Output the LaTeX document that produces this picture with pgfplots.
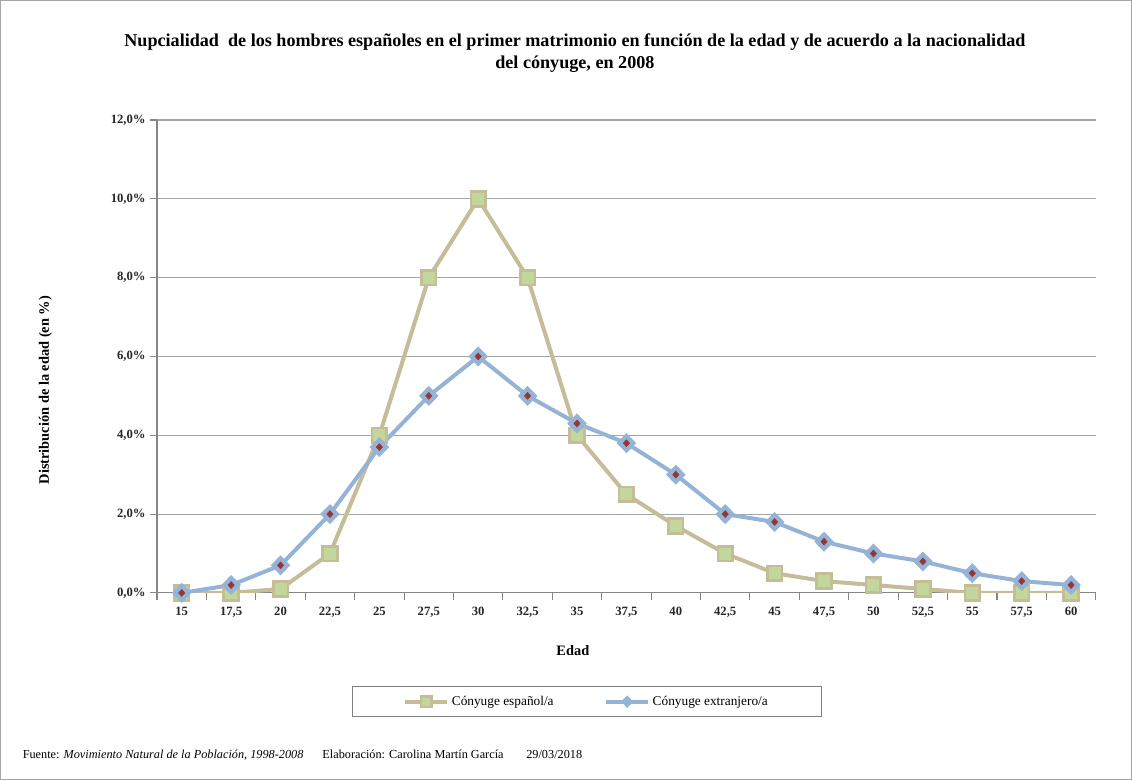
\documentclass[border=0pt]{standalone}
\usepackage{pgfplots}
\pgfplotsset{compat=1.18}
\usepackage{fontspec}
\setmainfont{Liberation Serif}
\definecolor{tanline}{HTML}{C4BD97}
\definecolor{sqfill}{HTML}{C3D69B}
\definecolor{blueline}{HTML}{95B3D7}
\definecolor{redc}{HTML}{953735}
\definecolor{gridc}{HTML}{A6A6A6}
\definecolor{axc}{HTML}{868686}
\begin{document}
\begin{tikzpicture}
\begin{axis}[name=ax, scale only axis, width=704.25pt, height=354.75pt,
  xmin=-0.5, xmax=18.5, ymin=0, ymax=12,
  axis x line*=bottom, axis y line*=left,
  axis line style={axc, line width=0.8pt, -},
  xtick={0,...,18},
  xticklabels={15,{17,5},20,{22,5},25,{27,5},30,{32,5},35,{37,5},40,{42,5},45,{47,5},50,{52,5},55,{57,5},60},
  minor xtick={-0.5,0.5,...,18.5},
  major x tick style={draw=none},
  ytick={0,2,...,12},
  yticklabels={{0,0\%},{2,0\%},{4,0\%},{6,0\%},{8,0\%},{10,0\%},{12,0\%}},
  tick align=outside, major tick length=5pt, minor tick length=5pt,
  tick style={axc, line width=0.8pt},
  ymajorgrids, grid style={gridc, line width=0.8pt},
  ticklabel style={font=\bfseries\fontsize{9.5}{11}\selectfont, text=black!85},
  xticklabel style={yshift=-1pt, text height=1.6ex, text depth=0.4ex},
  xlabel={\textbf{Edad}},
  ylabel={\textbf{Distribución de la edad (en \%)}},
  label style={font=\fontsize{10.8}{12}\selectfont},
  xlabel style={at={(axis description cs:0.443,-0.1226)}, anchor=center},
  ylabel style={at={(axis description cs:-0.119,0.429)}, anchor=center},
  legend columns=2,
  legend style={at={(axis description cs:0.458,-0.23)}, anchor=center,
    draw=gray, line width=0.8pt, inner xsep=38pt, inner ysep=5pt,
    font=\fontsize{10}{12}\selectfont,
    /tikz/every even column/.append style={column sep=36pt}},
  legend image code/.code={\draw[mark repeat=2,mark phase=2,mark size=4pt] plot coordinates {(0cm,0cm) (0.55cm,0cm) (1.1cm,0cm)};},
]
\addplot[tanline, line width=3pt, mark=square*, mark size=5.5pt,
  mark options={fill=sqfill, draw=tanline, line width=2pt}]
  coordinates {(0,0) (1,0) (2,0.1) (3,1.0) (4,4.0) (5,8.0) (6,10.0) (7,8.0) (8,4.0) (9,2.5)
  (10,1.7) (11,1.0) (12,0.5) (13,0.3) (14,0.2) (15,0.1) (16,0) (17,0) (18,0)};
\addlegendentry{Cónyuge español/a}
\addplot[blueline, line width=3pt, mark=diamond*, mark size=6.8pt,
  mark options={fill=blueline, draw=blueline, line width=1pt, xscale=1.3}]
  coordinates {(0,0) (1,0.2) (2,0.7) (3,2.0) (4,3.7) (5,5.0) (6,6.0) (7,5.0) (8,4.3) (9,3.8)
  (10,3.0) (11,2.0) (12,1.8) (13,1.3) (14,1.0) (15,0.8) (16,0.5) (17,0.3) (18,0.2)};
\addlegendentry{Cónyuge extranjero/a}
\addplot[forget plot, only marks, mark=diamond*, mark size=2.6pt, redc, mark options={xscale=1.2}]
  coordinates {(0,0) (1,0.2) (2,0.7) (3,2.0) (4,3.7) (5,5.0) (6,6.0) (7,5.0) (8,4.3) (9,3.8)
  (10,3.0) (11,2.0) (12,1.8) (13,1.3) (14,1.0) (15,0.8) (16,0.5) (17,0.3) (18,0.2)};
\end{axis}
\draw[gray!70, line width=0.8pt] ([shift={(-117.4pt,-140.0pt)}]ax.south west) rectangle ([shift={(731.0pt,444.4pt)}]ax.south west);
\node[font=\bfseries\fontsize{13.6}{16}\selectfont, align=center] at ([shift={(313.5pt,405.0pt)}]ax.south west)
  {Nupcialidad \ de los hombres españoles en el primer matrimonio en función de la edad y de acuerdo a la nacionalidad\\del cónyuge, en 2008};
\node[font=\fontsize{9.2}{11}\selectfont, anchor=west] at ([shift={(-104.25pt,-121.5pt)}]ax.south west)
  {Fuente: \textit{Movimiento Natural de la Población, 1998-2008}\hspace{1.3em} Elaboración: Carolina Martín García\hspace{1.6em} 29/03/2018};
\end{tikzpicture}
\end{document}
